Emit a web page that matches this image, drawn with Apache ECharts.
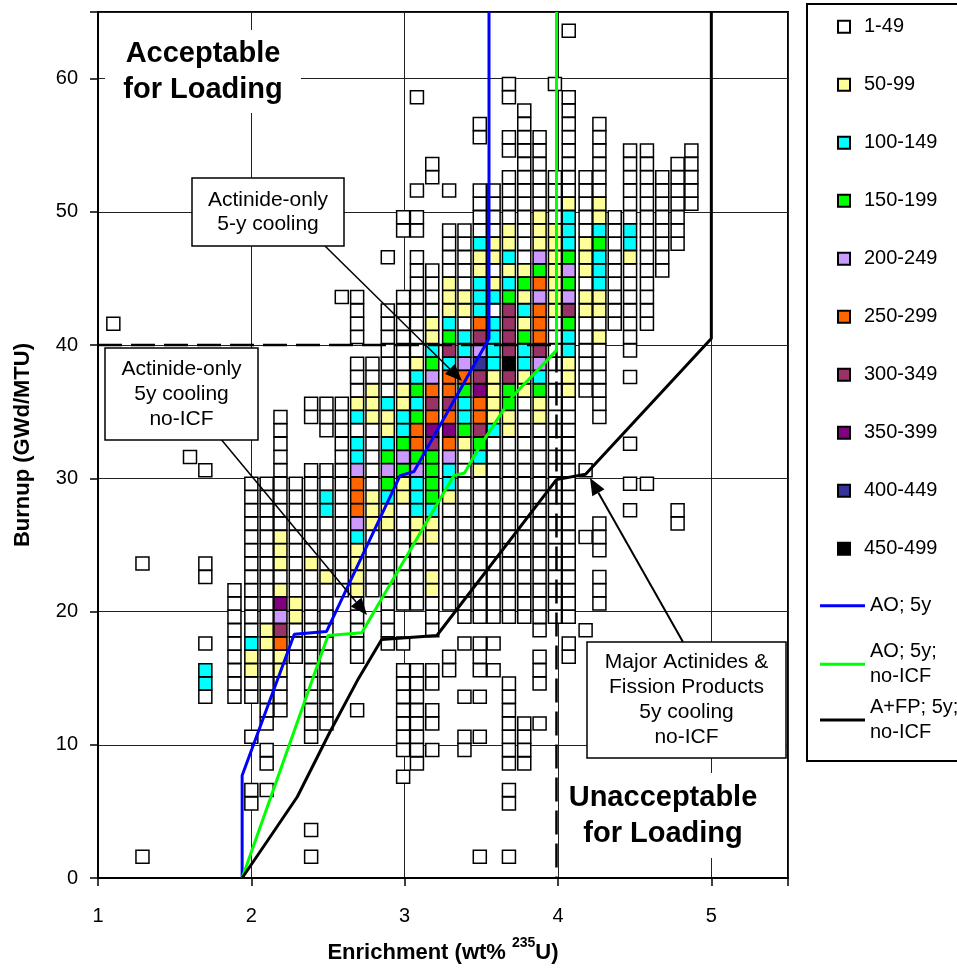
<!DOCTYPE html>
<html>
<head>
<meta charset="utf-8">
<script src="https://cdn.jsdelivr.net/npm/echarts@6/dist/echarts.min.js"></script>
<style>
  html, body { margin: 0; padding: 0; background: #fff; }
  #chart { width: 957px; height: 980px; }
</style>
</head>
<body>
<div id="chart"></div>
<script>
const FONT = '"Liberation Sans", Arial, sans-serif';

// assembly-count bands (legend order)
const bandNames = ["1-49", "50-99", "100-149", "150-199", "200-249",
  "250-299", "300-349", "350-399", "400-449", "450-499"];
const bandColors = ["#ffffff", "#ffff99", "#00ffff", "#00ff00", "#cc99ff",
  "#ff6600", "#993366", "#800080", "#333399", "#000000"];

// one entry per column of squares: enrichment (wt%), burnup of the lowest
// square (GWd/MTU), then the band code of each 1 GWd/MTU step up the column
// ("." = no assemblies)
const enrichment = [1.1, 1.29, 1.6, 1.7, 1.89, 2.0, 2.1, 2.19, 2.29, 2.39,
  2.49, 2.59, 2.69, 2.79, 2.89, 2.99, 3.08, 3.18, 3.29, 3.39,
  3.49, 3.58, 3.68, 3.78, 3.88, 3.98, 4.07, 4.18, 4.27, 4.37,
  4.47, 4.58, 4.68, 4.78, 4.87];
const firstBurnup = [41.6, 1.6, 31.6, 13.6, 13.6, 5.6, 6.6, 12.6, 16.6, 1.6,
  11.6, 21.6, 12.6, 21.6, 17.6, 7.6, 8.6, 9.6, 15.6, 9.6,
  1.6, 15.6, 1.6, 8.6, 11.6, 19.6, 16.6, 18.6, 20.6, 41.6,
  27.6, 29.6, 45.6, 26.6, 50.6];
const columnBands = [
  "0",
  "0.....................0",
  "0",
  "022.0....00......0",
  "000000000",
  "00...0..00112000000000000",
  "0.00.0000001100000000000",
  "00011564710111000000000",
  "00011000000000",
  "0.0......000000000000010000000...00",
  "00000000000100002200..000",
  "000000000000000.......0",
  "0...00000111124555422021000.0000",
  "000001110000011100",
  "00000000011234321120000000...0",
  "0.0000000.0..000000001134322110000000....00",
  "00000000....000001122243553232100000000.00.0......0",
  "0.00.00..0001100112333367565432110000......00",
  "00...00000000122457565526321110000..0",
  "00..0...0.000000000000013223542201100000",
  "0........0..0.000.000000000001236557684652221120000...00",
  "0.0.000000000000002111122220210110000",
  "0...00.0000000....0000000000000011336966663212110000.00..00",
  "0000.......000000000000000001122312131000000000000",
  "0..000.00000000000000001132465554534111000000",
  "0000000000000000000000011111110000......0",
  "00.0000000000000000011122364343222100000000....0",
  "0......0....0.....00000011011100000",
  "000.000.......00000010112223211000000",
  "000000000",
  "0.0..0....0.0000000122000000",
  "0...........00000000000000",
  "00000000",
  "00...................0000000",
  "00000"
];

// limit curves (wt%, GWd/MTU)
const aoX = [1.94, 1.94, 2.28, 2.49, 2.97, 3.06, 3.55, 3.55];
const aoY = [0, 7.7, 18.3, 18.5, 30.2, 30.5, 40.5, 65];
const aoNoIcfX = [1.94, 2.5, 2.72, 3.32, 3.39, 3.49, 3.7, 3.99, 3.99];
const aoNoIcfY = [0, 18.2, 18.4, 30.2, 30.4, 32.4, 36.1, 39.6, 65];
const afpX = [1.94, 2.1, 2.3, 2.51, 2.7, 2.85, 3.21, 3.99, 4.18, 5.0, 5.0];
const afpY = [0, 2.7, 6.1, 10.9, 15, 17.9, 18.2, 29.9, 30.3, 40.5, 65];
// dashed acceptance boundary
const limitX = [1, 3.99, 3.99];
const limitY = [40, 40, 0];

const xTicks = [1, 2, 3, 4, 5];

const bandData = bandNames.map(() => []);
enrichment.forEach((e, i) => {
  const codes = columnBands[i];
  for (let k = 0; k < codes.length; k++) {
    const c = codes[k];
    if (c === ".") continue;
    bandData[+c].push([e, +(firstBurnup[i] + k).toFixed(1)]);
  }
});

const zip = (xs, ys) => xs.map((x, i) => [x, ys[i]]);

const squareSeries = bandNames.map((name, i) => ({
  name,
  type: "scatter",
  symbol: "rect",
  symbolSize: 13,
  silent: true,
  z: 3,
  itemStyle: { color: bandColors[i], borderColor: "#000", borderWidth: 1.5, opacity: 1 },
  data: bandData[i],
}));

const lineSeries = [
  { name: "AO; 5y", x: aoX, y: aoY, color: "#0000ff" },
  { name: "AO; 5y; no-ICF", x: aoNoIcfX, y: aoNoIcfY, color: "#00ff00" },
  { name: "A+FP; 5y; no-ICF", x: afpX, y: afpY, color: "#000000" },
].map((s) => ({
  name: s.name,
  type: "line",
  symbol: "none",
  silent: true,
  z: 6,
  lineStyle: { color: s.color, width: 3 },
  itemStyle: { color: s.color },
  data: zip(s.x, s.y),
}));

const limitSeries = {
  name: "limit",
  type: "line",
  symbol: "none",
  silent: true,
  z: 5,
  lineStyle: { color: "#000", width: 2.5, type: [24, 9] },
  data: zip(limitX, limitY),
};

// callouts
function calloutBox(x, y, w, h, text, lh) {
  return [
    { type: "rect", z: 100, shape: { x, y, width: w, height: h },
      style: { fill: "#fff", stroke: "#000", lineWidth: 1.5 } },
    { type: "text", z: 101, x: x + w / 2, y: y + h / 2,
      style: { text, font: "21px " + FONT, fill: "#000", align: "center", textAlign: "center",
        verticalAlign: "middle", textVerticalAlign: "middle", lineHeight: lh } },
  ];
}

function arrow(x1, y1, x2, y2, w) {
  const ang = Math.atan2(y2 - y1, x2 - x1);
  const len = 17, half = 7;
  const bx = x2 - len * Math.cos(ang), by = y2 - len * Math.sin(ang);
  const px = -Math.sin(ang) * half, py = Math.cos(ang) * half;
  return [
    { type: "line", z: 100, shape: { x1, y1, x2: bx, y2: by }, style: { stroke: "#000", lineWidth: w } },
    { type: "polygon", z: 100, shape: { points: [[x2, y2], [bx + px, by + py], [bx - px, by - py]] },
      style: { fill: "#000" } },
  ];
}

function bigLabel(x, y, w, h, text) {
  return [
    { type: "rect", z: 99, shape: { x, y, width: w, height: h }, style: { fill: "#fff" } },
    { type: "text", z: 101, x: x + w / 2, y: y + h / 2,
      style: { text, font: "bold 29px " + FONT, fill: "#000", align: "center", textAlign: "center",
        verticalAlign: "middle", textVerticalAlign: "middle", lineHeight: 36 } },
  ];
}

const graphics = [
  { type: "rect", z: 90, shape: { x: 807, y: 4, width: 170, height: 757 },
    style: { fill: "none", stroke: "#000", lineWidth: 2 } },
  ...bigLabel(105, 30, 196, 83, "Acceptable\nfor Loading"),
  ...bigLabel(563, 773, 200, 85, "Unacceptable\nfor Loading"),
  ...arrow(325, 246, 462, 381, 1.5),
  ...calloutBox(192, 178, 152, 68, "Actinide-only\n5-y cooling", 24),
  ...arrow(220, 438, 367, 615, 1.5),
  ...calloutBox(105, 348, 153, 92, "Actinide-only\n5y cooling\nno-ICF", 25),
  ...arrow(683, 642, 590, 478, 2),
  ...calloutBox(587, 642, 199, 116, "Major Actinides &\nFission Products\n5y cooling\nno-ICF", 25),
];

const lineLegend = (name, top, twoLines) => ({
  data: [name], orient: "vertical", left: 815, top,
  icon: "rect", itemWidth: 45, itemHeight: 3, selectedMode: false,
  formatter: (n) => n.replace("; no-ICF", ";\nno-ICF"),
  textStyle: twoLines
    ? { fontSize: 20, lineHeight: 25, fontFamily: FONT, color: "#000", padding: [25, 0, 0, 0] }
    : { fontSize: 20, lineHeight: 20, fontFamily: FONT, color: "#000" },
});

const chart = echarts.init(document.getElementById("chart"));
chart.setOption({
  animation: false,
  backgroundColor: "#fff",
  textStyle: { fontFamily: FONT },
  grid: { left: 98, top: 12, right: 169, bottom: 102, show: true, borderColor: "#000", borderWidth: 2 },
  xAxis: {
    type: "value", min: 1, max: 5.5, interval: 1,
    axisLine: { onZero: false, lineStyle: { color: "#000", width: 2 } },
    axisTick: { length: 8, lineStyle: { color: "#000", width: 1.5 } },
    axisLabel: { color: "#000", fontSize: 20, fontFamily: FONT, margin: 28,
      formatter: (v) => (xTicks.includes(v) ? String(v) : "") },
    splitLine: { show: true, lineStyle: { color: "#222", width: 1 } },
    name: "{b|Enrichment (wt% }{s|235}{b|U)}",
    nameLocation: "middle", nameGap: 58,
    nameTextStyle: {
      rich: {
        b: { fontSize: 22, fontWeight: "bold", fontFamily: FONT, color: "#000", lineHeight: 28, verticalAlign: "bottom" },
        s: { fontSize: 14, fontWeight: "bold", fontFamily: FONT, color: "#000", lineHeight: 15, verticalAlign: "top" },
      },
    },
  },
  yAxis: {
    type: "value", min: 0, max: 65, interval: 10,
    axisLine: { onZero: false, lineStyle: { color: "#000", width: 2 } },
    axisTick: { length: 8, lineStyle: { color: "#000", width: 1.5 } },
    axisLabel: { color: "#000", fontSize: 20, fontFamily: FONT, margin: 20,
      formatter: (v) => (v % 10 === 0 ? String(v) : "") },
    splitLine: { show: true, lineStyle: { color: "#222", width: 1 } },
    name: "Burnup (GWd/MTU)",
    nameLocation: "middle", nameGap: 64,
    nameTextStyle: { fontSize: 22, fontWeight: "bold", fontFamily: FONT, color: "#000" },
  },
  legend: [
    { data: bandNames, orient: "vertical", left: 832, top: 11.7, itemWidth: 12, itemHeight: 12,
      itemGap: 38, icon: "rect", selectedMode: false,
      textStyle: { fontSize: 20, lineHeight: 20, fontFamily: FONT, color: "#000", padding: [0, 0, 0, 9] } },
    lineLegend("AO; 5y", 590.7, false),
    lineLegend("AO; 5y; no-ICF", 621.8, true),
    lineLegend("A+FP; 5y; no-ICF", 677.5, true),
  ],
  graphic: graphics,
  series: [...squareSeries, limitSeries, ...lineSeries],
});
</script>
</body>
</html>
